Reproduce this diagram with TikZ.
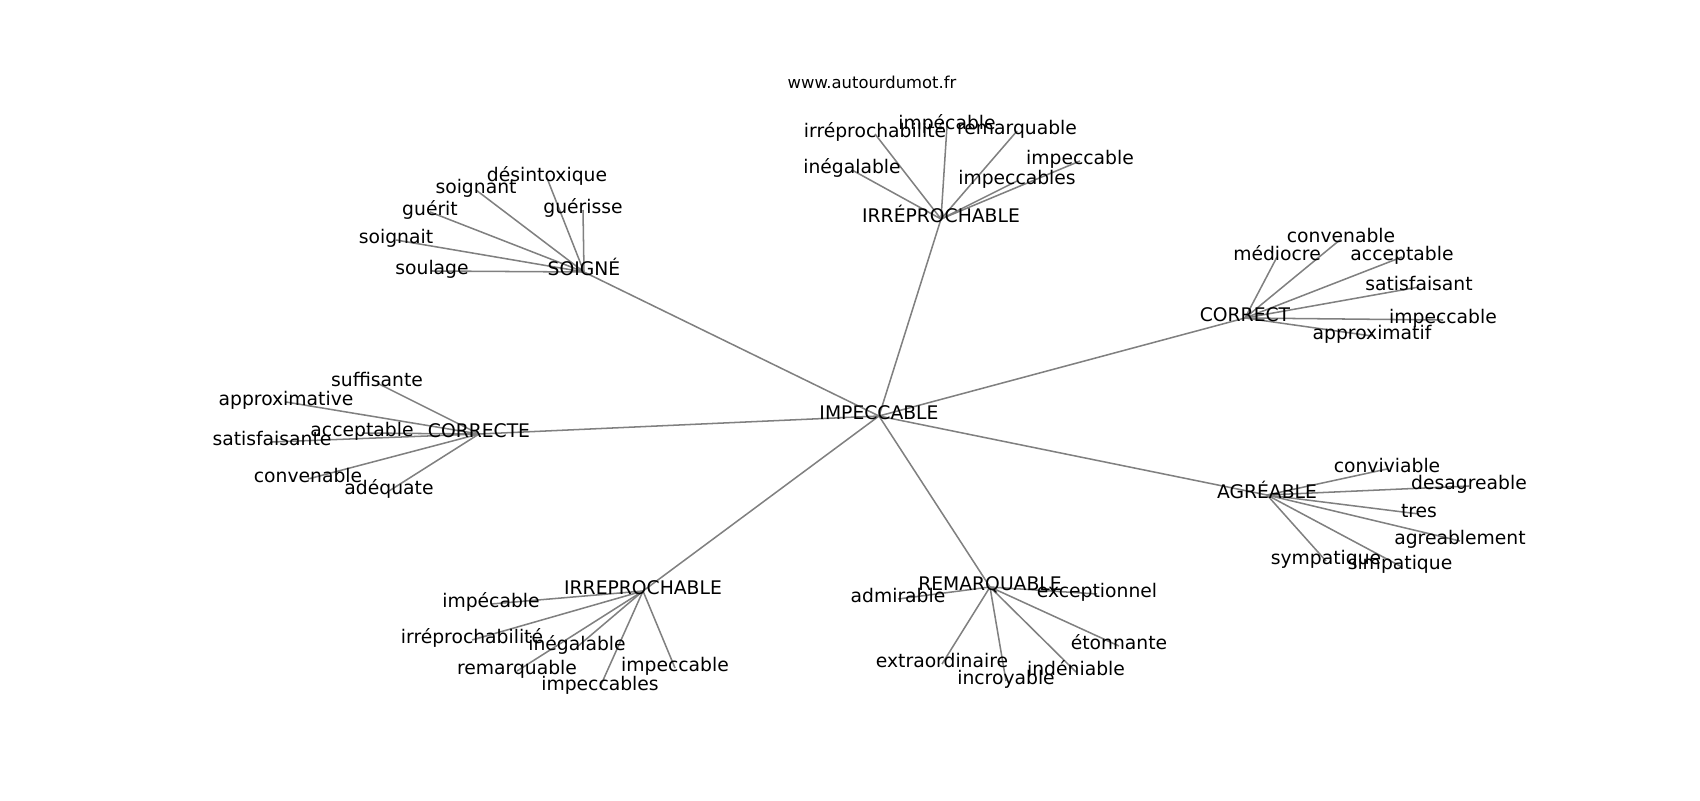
\documentclass[tikz,border=0pt]{standalone}
\usepackage{fontspec}
\setmainfont{DejaVu Sans}
\usetikzlibrary{backgrounds}

\tikzset{
	word/.style={font=\fontsize{13.5}{16}\selectfont, inner sep=0pt, text height=0.76em, text depth=0.24em},
	link/.style={draw=gray, line width=1.1pt}
}

\begin{document}
\begin{tikzpicture}[x=0.72pt, y=-0.72pt]
		\useasboundingbox (0, 0) rectangle (1700, 800);
		\node[font=\fontsize{11.8}{14}\selectfont] (site) at (872, 82) {www.autourdumot.fr};

		\begin{scope}[shift={(0, 4)}]
		% centre and groups
		\node[word] (hub)  at (879, 412) {IMPECCABLE};
		\node[word] (irr)  at (941, 215) {IRRÉPROCHABLE};
		\node[word] (soi)  at (584, 268) {SOIGNÉ};
		\node[word] (cor)  at (1245, 314) {CORRECT};
		\node[word] (core) at (479, 430) {CORRECTE};
		\node[word] (agr)  at (1267, 491) {AGRÉABLE};
		\node[word] (irre) at (643, 587) {IRREPROCHABLE};
		\node[word] (rem)  at (990, 583) {REMARQUABLE};

		% IRRÉPROCHABLE
		\node[word] (irr1) at (875, 130) {irréprochabilité};
		\node[word] (irr2) at (947, 122) {impécable};
		\node[word] (irr3) at (1017, 127) {remarquable};
		\node[word] (irr4) at (1080, 157) {impeccable};
		\node[word] (irr5) at (852, 166) {inégalable};
		\node[word] (irr6) at (1017, 177) {impeccables};

		% SOIGNÉ
		\node[word] (soi1) at (547, 174) {désintoxique};
		\node[word] (soi2) at (476, 186) {soignant};
		\node[word] (soi3) at (430, 208) {guérit};
		\node[word] (soi4) at (396, 236) {soignait};
		\node[word] (soi5) at (583, 206) {guérisse};
		\node[word] (soi6) at (432, 267) {soulage};

		% CORRECT
		\node[word] (cor1) at (1341, 235) {convenable};
		\node[word] (cor2) at (1277, 253) {médiocre};
		\node[word] (cor3) at (1402, 253) {acceptable};
		\node[word] (cor4) at (1419, 283) {satisfaisant};
		\node[word] (cor5) at (1443, 316) {impeccable};
		\node[word] (cor6) at (1372, 332) {approximatif};

		% CORRECTE
		\node[word] (core1) at (377, 379) {suffisante};
		\node[word] (core2) at (286, 398) {approximative};
		\node[word] (core3) at (362, 429) {acceptable};
		\node[word] (core4) at (272, 438) {satisfaisante};
		\node[word] (core5) at (308, 475) {convenable};
		\node[word] (core6) at (389, 487) {adéquate};

		% AGRÉABLE
		\node[word] (agr1) at (1387, 465) {conviviable};
		\node[word] (agr2) at (1469, 482) {desagreable};
		\node[word] (agr3) at (1419, 510) {tres};
		\node[word] (agr4) at (1460, 537) {agreablement};
		\node[word] (agr5) at (1326, 557) {sympatique};
		\node[word] (agr6) at (1400, 562) {simpatique};

		% IRREPROCHABLE
		\node[word] (irre1) at (491, 600) {impécable};
		\node[word] (irre2) at (472, 636) {irréprochabilité};
		\node[word] (irre3) at (577, 643) {inégalable};
		\node[word] (irre4) at (517, 667) {remarquable};
		\node[word] (irre5) at (600, 683) {impeccables};
		\node[word] (irre6) at (675, 664) {impeccable};

		% REMARQUABLE
		\node[word] (rem1) at (898, 595) {admirable};
		\node[word] (rem2) at (1097, 590) {exceptionnel};
		\node[word] (rem3) at (942, 660) {extraordinaire};
		\node[word] (rem4) at (1006, 677) {incroyable};
		\node[word] (rem5) at (1076, 668) {indéniable};
		\node[word] (rem6) at (1119, 642) {étonnante};
		\end{scope}

		\begin{pgfonlayer}{background}
			\foreach \g in {irr, soi, cor, core, agr, irre, rem}{
				\draw[link] (hub.center) -- (\g.center);
				\foreach \i in {1, ..., 6}
					\draw[link] (\g.center) -- (\g\i.center);
			}
		\end{pgfonlayer}
	\end{tikzpicture}
\end{document}
